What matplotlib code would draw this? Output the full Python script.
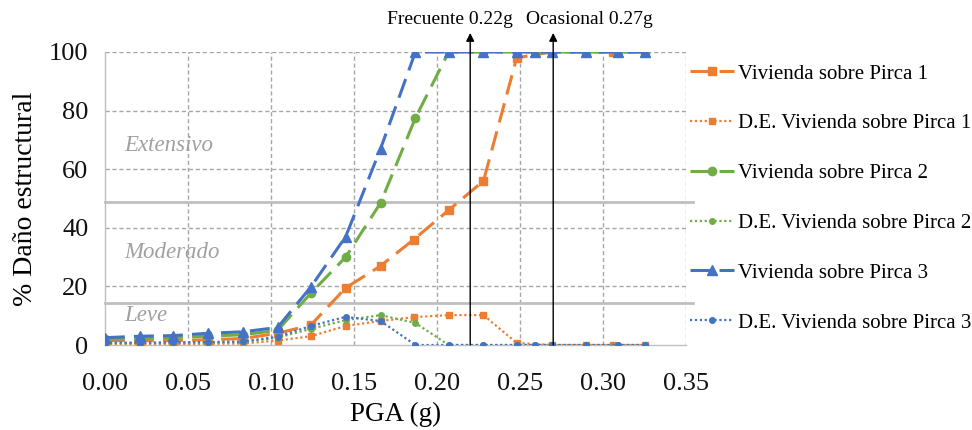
import matplotlib
matplotlib.use("Agg")
import matplotlib.pyplot as plt

plt.rcParams['font.family'] = ['Liberation Serif', 'DejaVu Serif']

# ---- data ----
x_p1 = [0.000, 0.021, 0.041, 0.062, 0.083, 0.104, 0.124, 0.145, 0.166, 0.186,
        0.207, 0.228, 0.248, 0.269, 0.290, 0.306, 0.325]
y_p1 = [1.5, 1.5, 1.5, 1.8, 2.2, 4.0, 6.8, 19.5, 27.0, 36.0,
        46.0, 56.0, 98.0, 100, 100, 100, 100]
de_p1 = [0.3, 0.3, 0.3, 0.4, 0.5, 1.5, 3.0, 6.5, 8.2, 9.5,
         10.2, 10.2, 0.7, 0, 0, 0, 0]

x_p23 = [0.000, 0.021, 0.041, 0.062, 0.083, 0.104, 0.124, 0.145, 0.166, 0.187,
         0.207, 0.228, 0.248, 0.259, 0.269, 0.290, 0.309, 0.325]
y_p2 = [2.0, 2.2, 2.5, 3.0, 3.5, 5.0, 17.7, 30.0, 48.5, 77.5,
        100, 100, 100, 100, 100, 100, 100, 100]
de_p2 = [0.6, 0.6, 0.7, 0.8, 1.0, 2.5, 5.5, 8.5, 10.2, 7.5,
         0, 0, 0, 0, 0, 0, 0, 0]
y_p3 = [2.5, 3.0, 3.2, 4.0, 4.5, 6.0, 19.8, 37.0, 67.0, 100,
        100, 100, 100, 100, 100, 100, 100, 100]
de_p3 = [0.8, 0.8, 0.9, 1.0, 1.2, 2.8, 6.5, 9.6, 8.2, 0,
         0, 0, 0, 0, 0, 0, 0, 0]

labels = ["Vivienda sobre Pirca 1", "D.E. Vivienda sobre Pirca 1",
          "Vivienda sobre Pirca 2", "D.E. Vivienda sobre Pirca 2",
          "Vivienda sobre Pirca 3", "D.E. Vivienda sobre Pirca 3"]

band_limits = [14.5, 48.8]
band_names = ["Leve", "Moderado", "Extensivo"]
band_label_y = [10.2, 31.7, 68.0]

events = [0.22, 0.27]
event_labels = ["Frecuente 0.22g", "Ocasional 0.27g"]
event_label_x = [0.170, 0.2535]

xticks = [0.00, 0.05, 0.10, 0.15, 0.20, 0.25, 0.30, 0.35]
yticks = [0, 20, 40, 60, 80, 100]

# ---- style ----
c_or = '#ED7D31'
c_gr = '#70AD47'
c_bl = '#4472C4'
grid_c = '#A6A6A6'

fig = plt.figure(figsize=(9.72, 4.30), dpi=100)
ax = fig.add_axes([105/972, 1-345/430, (686-105)/972, (345-52)/430])

ax.set_xlim(0, 0.35)
ax.set_ylim(0, 100)

# grid
for xv in xticks[1:]:
    ax.axvline(xv, color=grid_c, lw=1.0, ls=(0, (3, 2)), zorder=0)
for yv in yticks[1:]:
    ax.axhline(yv, color=grid_c, lw=1.0, ls=(0, (3, 2)), zorder=0)

# band limits (solid gray)
for yv in band_limits:
    ax.plot([0, 0.354], [yv, yv], color='#BFBFBF', lw=2.0, zorder=1, clip_on=False)

# band names
for name, yv in zip(band_names, band_label_y):
    ax.text(0.0115, yv, name, fontsize=16.5, style='italic', color='#A0A0A0',
            va='center', ha='left', zorder=1)

dash = (0, (6.5, 3))
dot = (0, (1, 1.2))
ms_main = 6
ms_de = 4

ax.plot(x_p1, y_p1, color=c_or, ls=dash, lw=2.2, marker='s', ms=ms_main, label=labels[0], zorder=3)
ax.plot(x_p1, de_p1, color=c_or, ls=dot, lw=1.6, marker='s', ms=ms_de, label=labels[1], zorder=3)
ax.plot(x_p23, y_p2, color=c_gr, ls=dash, lw=2.2, marker='o', ms=ms_main, label=labels[2], zorder=3)
ax.plot(x_p23, de_p2, color=c_gr, ls=dot, lw=1.6, marker='o', ms=ms_de, label=labels[3], zorder=3)
ax.plot(x_p23, y_p3, color=c_bl, ls=dash, lw=2.2, marker='^', ms=ms_main + 1, label=labels[4], zorder=3)
ax.plot(x_p23, de_p3, color=c_bl, ls=dot, lw=1.6, marker='o', ms=ms_de, label=labels[5], zorder=3)

# event arrows
for xv, lab, lx in zip(events, event_labels, event_label_x):
    ax.annotate('', xy=(xv, 106.5), xytext=(xv, 0), annotation_clip=False,
                arrowprops=dict(arrowstyle='-|>', color='black', lw=1.0,
                                mutation_scale=12, shrinkA=0, shrinkB=0), zorder=4)
    ax.text(lx, 111.0, lab, fontsize=14, ha='left', va='center', clip_on=False)

for s in ['top', 'right']:
    ax.spines[s].set_visible(False)
for s in ['left', 'bottom']:
    ax.spines[s].set_color('#BFBFBF')
    ax.spines[s].set_linewidth(1.0)

ax.set_xticks(xticks)
ax.set_xticklabels([f"{v:.2f}" for v in xticks])
ax.set_yticks(yticks)
ax.tick_params(axis='both', length=0, labelsize=19, colors='#111111')
ax.tick_params(axis='x', pad=20)
ax.tick_params(axis='y', pad=12)

ax.set_xlabel("PGA (g)", fontsize=19.5, labelpad=5)
ax.set_ylabel("% Daño estructural", fontsize=20, labelpad=8)

leg = ax.legend(loc='upper left', bbox_to_anchor=(690/972, 1-64/430),
                bbox_transform=fig.transFigure, frameon=False, fontsize=15,
                handlelength=2.1, handletextpad=0.2, labelspacing=1.45,
                borderaxespad=0, borderpad=0)

fig.savefig('out.png', dpi=100)
